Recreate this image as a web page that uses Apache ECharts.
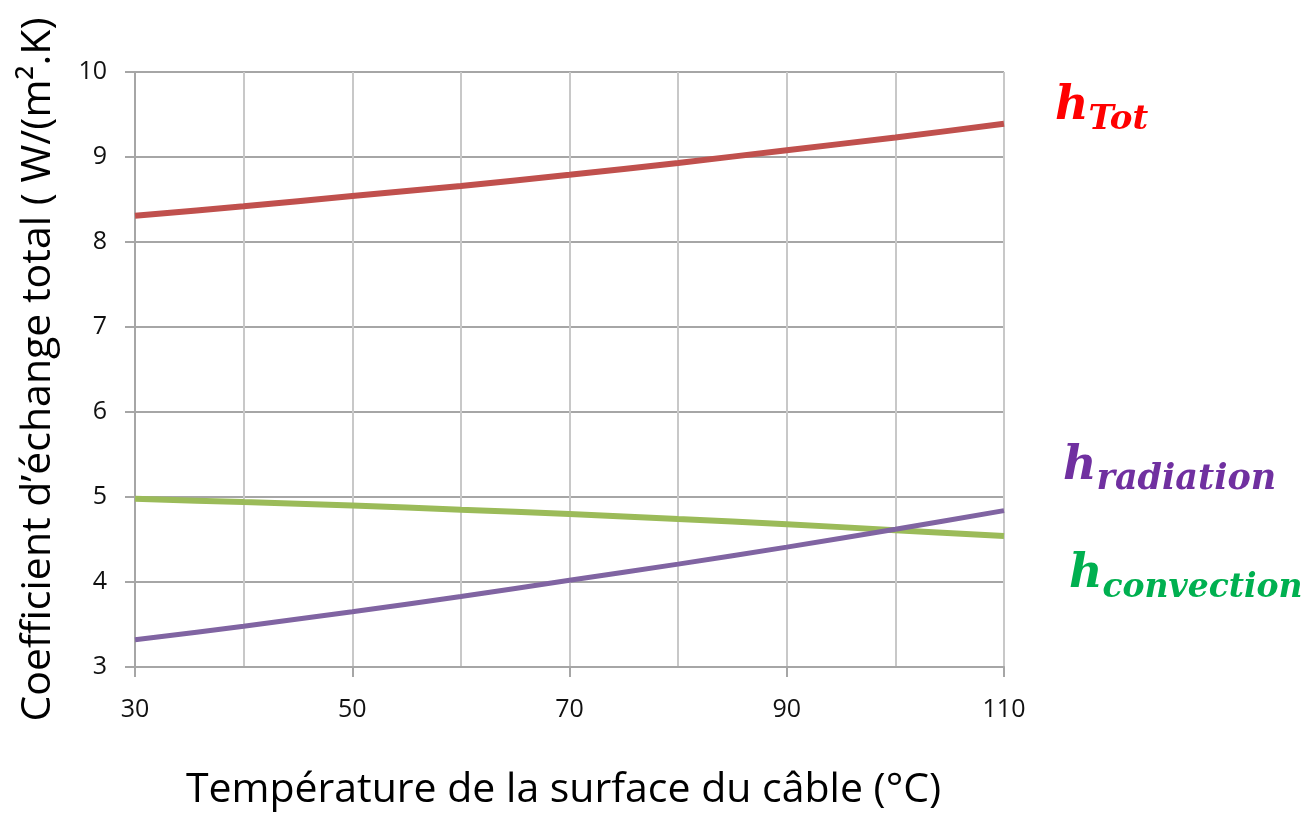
<!DOCTYPE html>
<html><head><meta charset="utf-8">
<script src="https://cdn.jsdelivr.net/npm/echarts@6/dist/echarts.min.js"></script>
<style>html,body{margin:0;padding:0;background:#fff}#c{width:1311px;height:813px}</style>
</head><body><div id="c"></div>
<script>
const temps = [30, 40, 50, 60, 70, 80, 90, 100, 110];
const hTot = [8.31, 8.42, 8.54, 8.66, 8.79, 8.93, 9.08, 9.23, 9.39];
const hRadiation = [3.32, 3.48, 3.65, 3.83, 4.02, 4.21, 4.41, 4.62, 4.84];
const hConvection = [4.98, 4.94, 4.90, 4.85, 4.80, 4.74, 4.68, 4.61, 4.54];
const xTitle = 'Température de la surface du câble (°C)';
const yTitle = 'Coefficient d’échange total ( W/(m².K)';

const pairs = a => temps.map((t, i) => [t, a[i]]);
const chart = echarts.init(document.getElementById('c'));
const axisFont = {fontFamily: 'Open Sans', fontSize: 25, color: '#111'};
const gray = '#a6a6a6';
const labelStyle = (c) => ({fontFamily: 'DejaVu Serif', fontStyle: 'italic', fontWeight: 'bold', fill: c});
const mk = (sub, c, left, top, subSize) => ({
  type: 'text', left: left, top: top,
  style: {text: '{h|h}{s|' + sub + '}', rich: {
    h: Object.assign({fontSize: 46}, labelStyle(c)),
    s: Object.assign({fontSize: subSize, padding: [26, 0, 0, 0]}, labelStyle(c))}}
});
chart.setOption({
  animation: false,
  grid: {left: 135, right: 307, top: 72, bottom: 146, outerBoundsMode: 'none', containLabel: false},
  xAxis: {
    type: 'value', min: 30, max: 110, interval: 20,
    name: xTitle, nameLocation: 'middle', nameGap: 103,
    nameTextStyle: {fontFamily: 'Open Sans', fontSize: 41, color: '#000', padding: [0, 12, 0, 0]},
    axisLine: {show: true, lineStyle: {color: gray, width: 2}},
    axisTick: {show: true, length: 10, lineStyle: {color: gray, width: 2}},
    minorTick: {show: false, splitNumber: 2},
    axisLabel: Object.assign({margin: 30}, axisFont),
    splitLine: {show: true, lineStyle: {color: '#c8c8c8', width: 2}},
    minorSplitLine: {show: true, lineStyle: {color: '#c8c8c8', width: 2}}
  },
  yAxis: {
    type: 'value', min: 3, max: 10, interval: 1,
    name: yTitle, nameLocation: 'middle', nameGap: 76, nameRotate: 90,
    nameTextStyle: {fontFamily: 'Open Sans', fontSize: 41, color: '#000'},
    axisLine: {show: true, lineStyle: {color: gray, width: 2}},
    axisTick: {show: true, length: 10, lineStyle: {color: gray, width: 2}},
    axisLabel: Object.assign({margin: 28}, axisFont),
    splitLine: {show: true, lineStyle: {color: '#a6a6a6', width: 2}}
  },
  series: [
    {name: 'hTot', type: 'line', data: pairs(hTot), smooth: 0.3, showSymbol: false, lineStyle: {color: '#c0504d', width: 6}, z: 3},
    {name: 'hConvection', type: 'line', data: pairs(hConvection), smooth: 0.3, showSymbol: false, lineStyle: {color: '#9bbb59', width: 6}, z: 3},
    {name: 'hRadiation', type: 'line', data: pairs(hRadiation), smooth: 0.3, showSymbol: false, lineStyle: {color: '#8064a2', width: 5}, z: 4}
  ],
  graphic: [
    mk('Tot', '#ff0000', 1055, 84, 34),
    mk('radiation', '#7030a0', 1063, 444, 35),
    mk('convection', '#00b050', 1069, 552, 33)
  ]
});
</script></body></html>
